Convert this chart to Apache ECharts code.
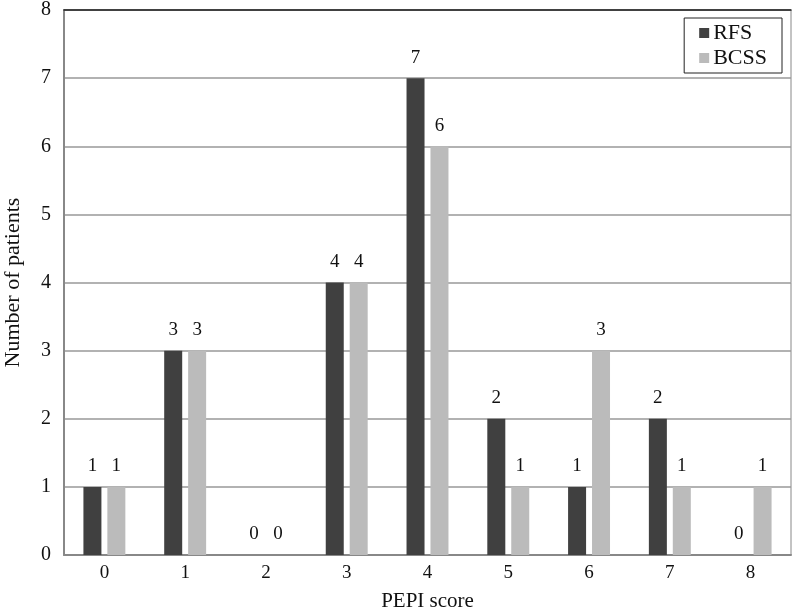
<!DOCTYPE html>
<html><head><meta charset="utf-8">
<script src="https://cdn.jsdelivr.net/npm/echarts@6/dist/echarts.min.js"></script>
<style>html,body{margin:0;padding:0;background:#fff}#c{width:794px;height:612px}</style>
</head><body><div id="c"></div>
<script>
const categories = ['0','1','2','3','4','5','6','7','8'];
const rfs = [1,3,0,4,7,2,1,2,0];
const bcss = [1,3,0,4,6,1,3,1,1];
const yTicks = [0,1,2,3,4,5,6,7,8];
const font = 'Liberation Serif, Times New Roman, serif';
const chart = echarts.init(document.getElementById('c'));
const lbl = {show:true, position:'top', distance:11, color:'#111', fontFamily:font, fontSize:19};
chart.setOption({
  animation:false,
  grid:{left:64, right:3, top:10, bottom:57, show:true, borderColor:'#888', borderWidth:1, outerBoundsMode:'none', containLabel:false},
  legend:{
    data:['RFS','BCSS'], orient:'vertical', right:12, top:18,
    icon:'rect', itemWidth:10, itemHeight:10, itemGap:3,
    borderColor:'#222', borderWidth:1, padding:[4,15,4,15],
    textStyle:{fontFamily:font, fontSize:22, color:'#111', padding:[0,0,0,-1], lineHeight:22}
  },
  xAxis:[{
    type:'category', data:categories, name:'PEPI score', nameLocation:'middle', nameGap:36,
    nameTextStyle:{fontFamily:font, fontSize:21, color:'#111'},
    axisLine:{lineStyle:{color:'#888', width:2}}, axisTick:{show:false},
    axisLabel:{fontFamily:font, fontSize:19, color:'#111', margin:9}
  },{
    type:'category', data:categories, position:'top',
    axisLine:{show:true, lineStyle:{color:'#222', width:1.5}}, axisTick:{show:false}, axisLabel:{show:false}
  }],
  yAxis:{
    type:'value', min:yTicks[0], max:yTicks[yTicks.length-1], interval:1,
    name:'Number of patients', nameLocation:'middle', nameGap:40,
    nameTextStyle:{fontFamily:font, fontSize:22, color:'#111'},
    axisLine:{show:true, lineStyle:{color:'#888', width:2}}, axisTick:{show:false},
    axisLabel:{fontFamily:font, fontSize:20, color:'#111', margin:13},
    splitLine:{lineStyle:{color:'#999', width:1.5}}
  },
  series:[
    {name:'RFS', type:'bar', data:rfs, barWidth:18, barGap:'33%', itemStyle:{color:'#404040'}, label:lbl},
    {name:'BCSS', type:'bar', data:bcss, barWidth:18, itemStyle:{color:'#bbbbbb'}, label:lbl}
  ]
});
</script></body></html>
